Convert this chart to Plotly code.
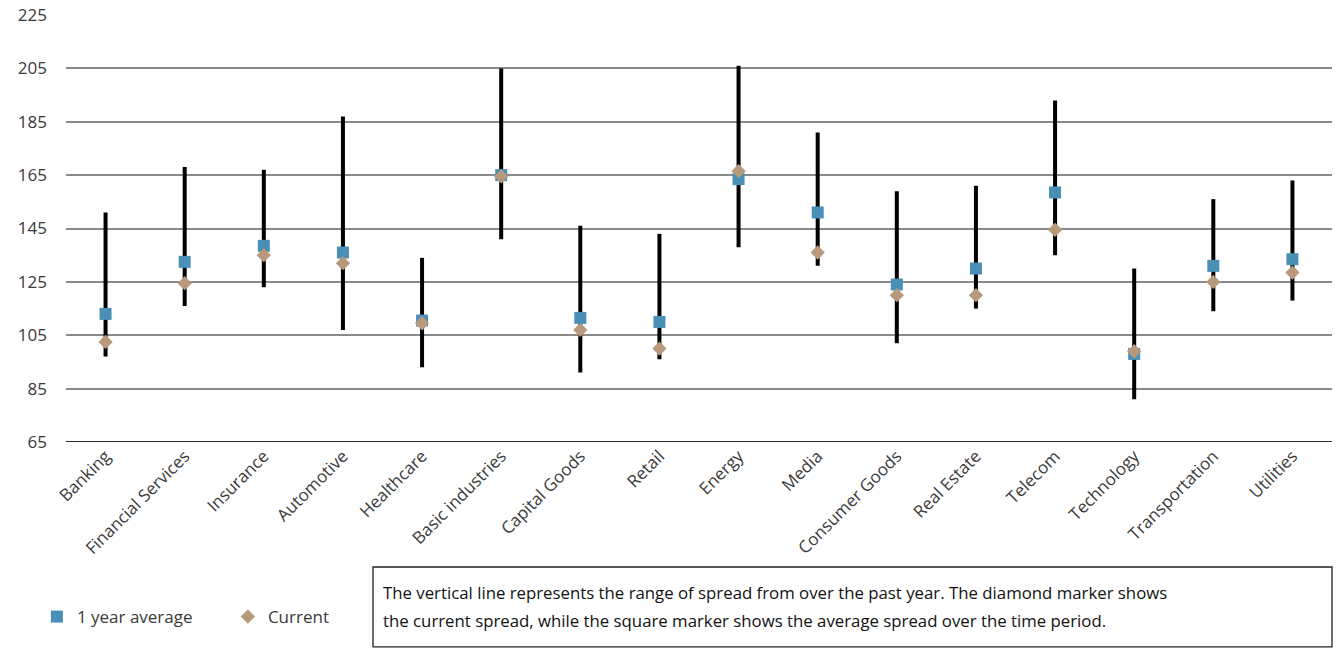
import plotly.graph_objects as go

# Sector spread ranges over the past year
sectors = ["Banking", "Financial Services", "Insurance", "Automotive", "Healthcare",
           "Basic industries", "Capital Goods", "Retail", "Energy", "Media",
           "Consumer Goods", "Real Estate", "Telecom", "Technology", "Transportation",
           "Utilities"]
range_high = [151, 168, 167, 187, 134, 205, 146, 143, 206, 181, 159, 161, 193, 130, 156, 163]
range_low = [97, 116, 123, 107, 93, 141, 91, 96, 138, 131, 102, 115, 135, 81, 114, 118]
avg_1y = [113, 132.5, 138.5, 136, 110.5, 165, 111.5, 110, 163.5, 151, 124, 130, 158.5, 98, 131, 133.5]
current = [102.5, 124.5, 135, 132, 109.5, 164.5, 107, 100, 166.5, 136, 120, 120, 144.5, 99, 125, 128.5]

y_ticks = [65, 85, 105, 125, 145, 165, 185, 205, 225]

note_lines = [
    "The vertical line represents the range of spread from over the past year. "
    "The diamond marker shows",
    "the current spread, while the square marker shows the average spread over the time period.",
]

FONT = "Open Sans"
TEXT_COLOR = "#3a3a3a"

# Vertical range lines: one segment per sector, separated by gaps
seg_x, seg_y = [], []
for s, lo, hi in zip(sectors, range_low, range_high):
    seg_x += [s, s, None]
    seg_y += [lo, hi, None]

fig = go.Figure()
fig.add_trace(go.Scatter(
    x=seg_x, y=seg_y, mode="lines",
    line=dict(color="black", width=4),
    showlegend=False, hoverinfo="skip", name="Range",
))
fig.add_trace(go.Scatter(
    x=sectors, y=avg_1y, mode="markers", name="1 year average",
    marker=dict(symbol="square", size=12, color="#4a8fb6"),
))
fig.add_trace(go.Scatter(
    x=sectors, y=current, mode="markers", name="Current",
    marker=dict(symbol="diamond", size=11, color="#b8997c"),
))

# Explanatory note box below the chart
fig.add_shape(type="rect", xref="paper", yref="paper",
              x0=0.2425, x1=1.0, y0=-0.480, y1=-0.2927,
              line=dict(color="#222222", width=1.3), fillcolor="rgba(0,0,0,0)")
for line_text, ypos in zip(note_lines, [-0.3536, -0.4169]):
    fig.add_annotation(
        xref="paper", yref="paper", x=0.2488, y=ypos,
        xanchor="left", yanchor="middle", align="left", showarrow=False,
        text=line_text,
        font=dict(family=FONT, size=16.8, color="#111111"),
    )

fig.update_layout(
    width=1338, height=649,
    margin=dict(l=66, r=6, t=15, b=207),
    paper_bgcolor="white", plot_bgcolor="white",
    font=dict(family=FONT, size=17, color=TEXT_COLOR),
    showlegend=True,
    legend=dict(
        orientation="h", x=-0.023, y=-0.41, xanchor="left", yanchor="middle",
        font=dict(family=FONT, size=17, color=TEXT_COLOR),
        entrywidth=146, entrywidthmode="pixels",
        bgcolor="rgba(0,0,0,0)",
    ),
    xaxis=dict(
        type="category", categoryorder="array", categoryarray=sectors,
        tickangle=-45, showgrid=False, showline=False, ticks="",
        tickfont=dict(family=FONT, size=17, color=TEXT_COLOR),
        range=[-0.5, len(sectors) - 0.5], automargin=False,
    ),
    yaxis=dict(
        range=[65, 225], tickvals=y_ticks, showgrid=True,
        gridcolor="#8a8a8a", gridwidth=1.5, zeroline=False,
        showline=False, ticks="", ticklabelstandoff=18,
        tickfont=dict(family=FONT, size=17, color=TEXT_COLOR),
        automargin=False,
    ),
)

# Darker baseline at the bottom of the plot
fig.add_shape(type="line", xref="paper", yref="y", x0=0, x1=1, y0=65, y1=65,
              line=dict(color="#2a2a2a", width=2))

fig.write_html("out.html")
